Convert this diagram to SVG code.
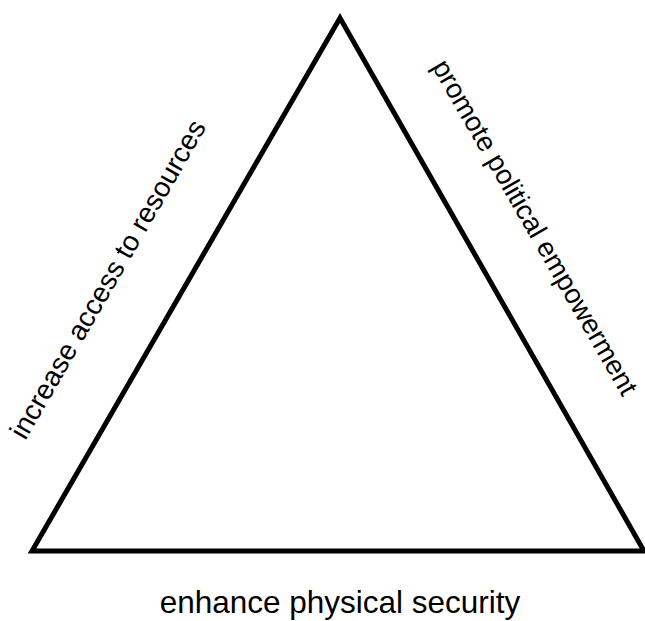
<svg xmlns="http://www.w3.org/2000/svg" width="645" height="621" viewBox="0 0 645 621">
<style>
.lbl{font-family:"Liberation Sans",Arial,sans-serif;fill:#000;text-anchor:middle}
.edge{fill:none;stroke:#000;stroke-width:5;stroke-linejoin:miter}
</style>
<rect width="645" height="621" fill="#fff"/>
<g id="connectors">
<polygon class="edge" points="340,18 32,551 644,551"/>
</g>
<g id="label-left">
<text class="lbl" font-size="28" transform="translate(116,284) rotate(-60)">increase access to resources</text>
</g>
<g id="label-right">
<text class="lbl" font-size="27.5" transform="translate(527,232) rotate(60)">promote political empowerment</text>
</g>
<g id="label-bottom">
<text class="lbl" font-size="31.5" x="340" y="613">enhance physical security</text>
</g>
</svg>
